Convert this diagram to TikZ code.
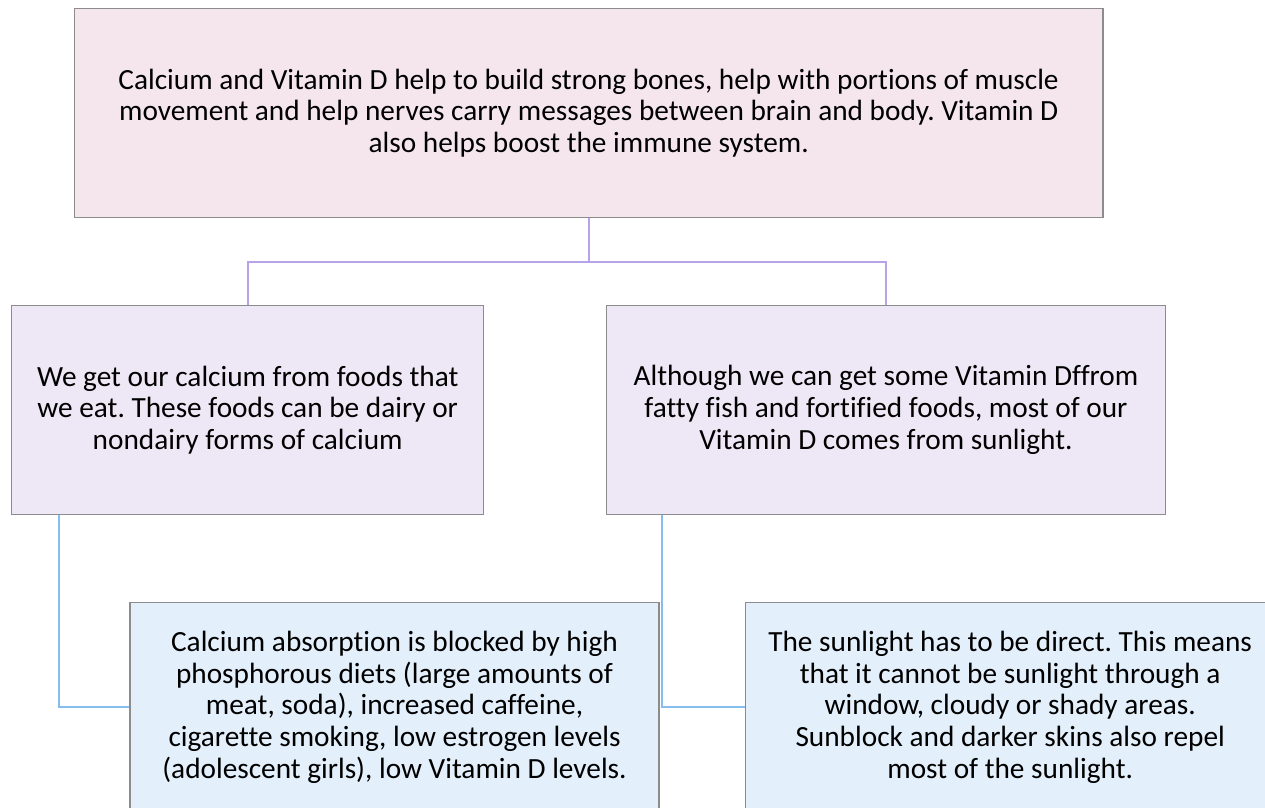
\documentclass[tikz,border=0pt]{standalone}
\usepackage{fontspec}
\setmainfont[Ligatures={NoCommon}]{Carlito}
\usepackage{xcolor}
\usepackage{tikz}
\usetikzlibrary{calc}
\definecolor{box-pink}{RGB}{245, 230, 238}
\definecolor{box-lilac}{RGB}{238, 232, 246}
\definecolor{box-sky}{RGB}{227, 239, 250}
\definecolor{box-edge}{RGB}{140, 140, 140}
\definecolor{link-purple}{RGB}{185, 163, 232}
\definecolor{link-blue}{RGB}{132, 189, 238}
\frenchspacing

\begin{document}
\begin{tikzpicture}[
    x=1pt, y=-1pt,
    box/.style={rectangle, draw=box-edge, line width=1.2pt,
                align=center, inner sep=0pt,
                font=\fontsize{29.3}{31.8}\selectfont},
    topbox/.style={box, fill=box-pink,  minimum width=1028.7pt, minimum height=209pt},
    midbox/.style={box, fill=box-lilac, minimum height=208.5pt},
    lowbox/.style={box, fill=box-sky,   minimum width=529pt,    minimum height=210pt},
    plink/.style={draw=link-purple, line width=2pt},
    blink/.style={draw=link-blue,   line width=2pt}
  ]
    \clip (0,0) rectangle (1265,807);
    \fill[white] (0,0) rectangle (1265,807);

    \node[topbox] (calc) at (588.7,113)
      {Calcium and Vitamin D help to build strong bones, help with portions of muscle\\
       movement and help nerves carry messages between brain and body. Vitamin D\\
       also helps boost the immune system.};
    \node[midbox, minimum width=472pt] (food) at (247.7,410)
      {We get our calcium from foods that\\
       we eat. These foods can be dairy or\\
       nondairy forms of calcium};
    \node[midbox, minimum width=558.5pt] (sun) at (886,410)
      {Although we can get some Vitamin Dffrom\\
       fatty fish and fortified foods, most of our\\
       Vitamin D comes from sunlight.};
    \node[lowbox] (absorb) at (394.5,707.3)
      {Calcium absorption is blocked by high\\
       phosphorous diets (large amounts of\\
       meat, soda), increased caffeine,\\
       cigarette smoking, low estrogen levels\\
       (adolescent girls), low Vitamin D levels.};
    \node[lowbox] (direct) at (1010.2,707.3)
      {The sunlight has to be direct. This means\\
       that it cannot be sunlight through a\\
       window, cloudy or shady areas.\\
       Sunblock and darker skins also repel\\
       most of the sunlight.};

    % hierarchy links
    \draw[plink] (calc.south) -- ++(0,44) coordinate (fork) -| (food.north);
    \draw[plink] (fork) -| (sun.north);
    \draw[blink] ([xshift=48pt]food.south west) |- (absorb.west);
    \draw[blink] ([xshift=56pt]sun.south west) |- (direct.west);
\end{tikzpicture}
\end{document}
